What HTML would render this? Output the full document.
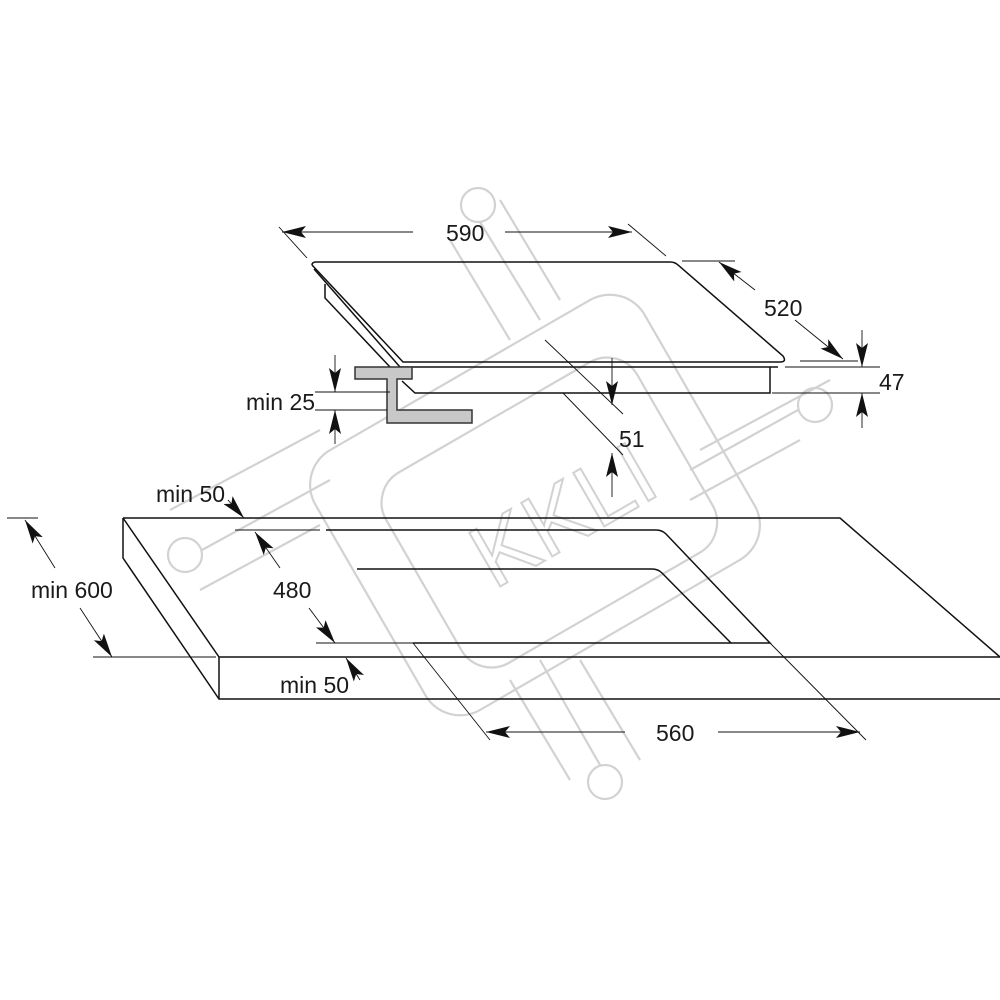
<!DOCTYPE html>
<html><head><meta charset="utf-8"><style>
html,body{margin:0;padding:0;background:#fff;}
svg{display:block;}
text{font-family:"Liberation Sans",sans-serif;font-size:23px;fill:#1a1a1a;}
</style></head><body>
<svg width="1000" height="1000" viewBox="0 0 1000 1000" xmlns="http://www.w3.org/2000/svg">
<defs>
<marker id="a" viewBox="0 0 24 12" refX="24" refY="6" markerWidth="24" markerHeight="12" markerUnits="userSpaceOnUse" orient="auto"><path d="M0,0 L24,6 L0,12 L5,6 Z" fill="#111"/></marker>
</defs>
<!-- watermark -->
<g fill="none" stroke="#d2d2d2" stroke-width="2.2">
<rect x="-190" y="-150" width="380" height="300" rx="40" transform="translate(535,505) rotate(-30)"/>
<rect x="-140" y="-110" width="290" height="220" rx="35" transform="translate(545,515) rotate(-30)"/>
<circle cx="185" cy="555" r="17"/><circle cx="815" cy="405" r="17"/><circle cx="605" cy="782" r="17"/><circle cx="478" cy="205" r="17"/>
<path d="M202,550 L330,480 M170,510 L320,430 M200,590 L320,525 M798,410 L690,470 M830,380 L700,450 M800,440 L690,500"/>
<path d="M600,765 L540,660 M570,780 L510,680 M640,760 L580,660 M480,222 L540,320 M450,240 L510,340 M500,200 L560,300"/>
<text x="455" y="555" transform="rotate(-30 540 500)" style="font-size:90px;fill:none;stroke:#d2d2d2;stroke-width:2">KKLI</text>
</g>
<g fill="none" stroke="#111" stroke-width="1.5">
<path d="M123,518 L840,518 L1000,657"/>
<path d="M123,518 L219,657 L1000,657"/>
<path d="M123,518 L123,558 L219,699 L1000,699"/>
<path d="M219,657 L219,699"/>
<path d="M326,530 L656,530 Q662,530 666,534 L770,643 L413,643"/>
<path d="M357,569 L652,569 Q658,569 662,573 L731,643"/>
<path d="M312,265 Q312,262 316,262 L670,262 Q675,262 678,265 L783,356 Q787,362 780,362 L403,362 L312,265"/>
<path d="M314,269 L400,367 L778,367"/>
<path d="M325,284 L325,298 L390,367"/>
<path d="M770,367 L770,393 L415,393 L402,381"/>
</g>
<path d="M355,367 L412,367 L412,379 L397,379 L397,410 L472,410 L472,423 L387,423 L387,379 L355,379 Z" fill="#c8c8c8" stroke="#333" stroke-width="1.5"/>
<g fill="none" stroke="#111" stroke-width="0.9">
<path d="M279,227 L307,258 M628,224 L666,256"/>
<path d="M413,232 L282,232" marker-end="url(#a)"/>
<path d="M505,232 L632,232" marker-end="url(#a)"/>
<path d="M682,261 L735,261 M800,361 L858,361"/>
<path d="M755,290 L719,262" marker-end="url(#a)"/>
<path d="M795,320 L843,359" marker-end="url(#a)"/>
<path d="M785,367 L880,367 M772,393 L880,393"/>
<path d="M862,330 L862,367" marker-end="url(#a)"/>
<path d="M862,428 L862,393" marker-end="url(#a)"/>
<path d="M545,340 L623,414 M563,393 L623,455"/>
<path d="M612,358 L612,405" marker-end="url(#a)"/>
<path d="M612,497 L612,453" marker-end="url(#a)"/>
<path d="M315,392 L390,392 M315,410 L387,410"/>
<path d="M335,355 L335,392" marker-end="url(#a)"/>
<path d="M335,444 L335,410" marker-end="url(#a)"/>
<path d="M7,518 L38,518 M93,657 L216,657"/>
<path d="M55,568 L25,520" marker-end="url(#a)"/>
<path d="M80,608 L112,657" marker-end="url(#a)"/>
<path d="M235,530 L320,530 M316,643 L413,643"/>
<path d="M280,568 L255,532" marker-end="url(#a)"/>
<path d="M309,608 L335,643" marker-end="url(#a)"/>
<path d="M228,500 L244,518" marker-end="url(#a)"/>
<path d="M360,680 L346,658" marker-end="url(#a)"/>
<path d="M413,643 L490,740 M770,643 L866,740"/>
<path d="M625,732 L486,732" marker-end="url(#a)"/>
<path d="M718,732 L860,732" marker-end="url(#a)"/>
</g>
<text x="446" y="241">590</text>
<text x="764" y="316">520</text>
<text x="879" y="390">47</text>
<text x="619" y="447">51</text>
<text x="246" y="410">min 25</text>
<text x="156" y="502">min 50</text>
<text x="31" y="598">min 600</text>
<text x="273" y="598">480</text>
<text x="280" y="693">min 50</text>
<text x="656" y="741">560</text>
</svg>
</body></html>
